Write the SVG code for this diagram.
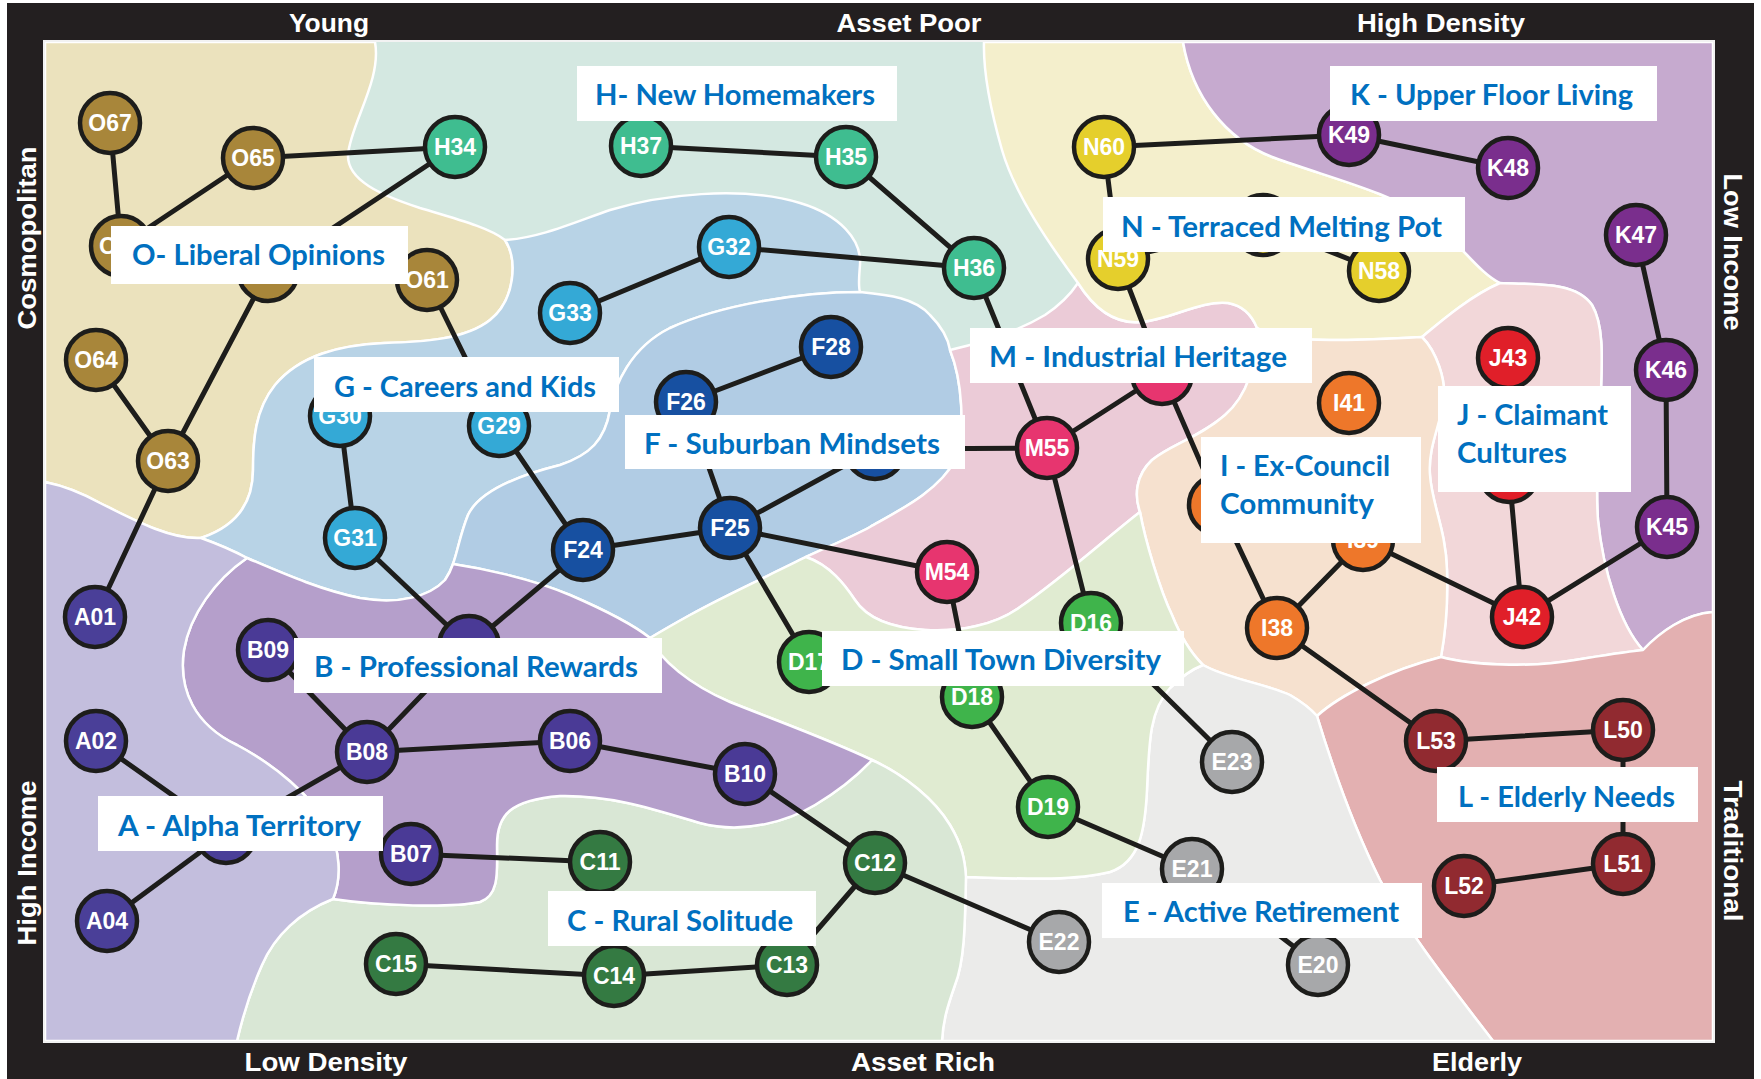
<svg xmlns="http://www.w3.org/2000/svg" width="1761" height="1079" viewBox="0 0 1761 1079">
<defs>
<style>
.reg{stroke:#ffffff;stroke-width:2.5;stroke-linejoin:round}
.node circle{stroke:#1d1d1b;stroke-width:4.5}
.node text{font-family:"Liberation Sans",Arial,sans-serif;font-weight:bold;font-size:23px;fill:#ffffff;text-anchor:middle}
.nO circle{fill:#a8863a}.nH circle{fill:#3fbd90}.nG circle{fill:#34a9d6}.nF circle{fill:#1750a1}
.nN circle{fill:#e5cf2c}.nK circle{fill:#7a2e8d}.nJ circle{fill:#e01f29}.nI circle{fill:#ee772a}
.nM circle{fill:#e7356f}.nD circle{fill:#3fb44b}.nE circle{fill:#a7a8aa}.nA circle{fill:#4a3f98}
.nB circle{fill:#4a3a96}.nC circle{fill:#347a42}.nL circle{fill:#912a30}
.label rect{fill:#ffffff}
.label text{font-family:Lato,"Open Sans",sans-serif;font-weight:bold;font-size:28px;fill:#0070c0}
.axis{font-family:"Liberation Sans",Arial,sans-serif;font-weight:bold;font-size:26px;fill:#ffffff;text-anchor:middle}
</style>
</defs>

<!-- frame -->
<rect x="0" y="0" width="1761" height="1079" fill="#ffffff"/>
<rect x="7" y="3" width="1747" height="1076" fill="#231f20"/>

<!-- segment regions -->
<g id="regions">
<rect id="region-H" x="45" y="42" width="1668" height="999" fill="#d4e8e1"/>
<path id="region-O" class="reg" fill="#ebe2bd" d="M45,42 H375 C382,80 350,125 348,155 C347,180 380,195 420,208 C460,220 490,228 505,240 C518,260 515,300 490,320 C465,340 420,342 384,343 C340,345 300,355 275,385 C255,410 253,440 253,470 C253,500 240,525 201,538 C170,540 130,518 100,503 C80,492 60,485 45,482 Z"/>
<path id="region-G" class="reg" fill="#b8d3e6" d="M505,240 C540,238 575,222 610,210 C660,195 740,185 800,203 C840,215 862,240 860,265 C859,278 858,286 860,292 C800,292 720,305 670,328 C630,348 615,385 610,410 C605,440 590,455 560,465 C520,475 480,490 468,515 C460,535 458,550 453,564 C451,570 449,574 445,580 C430,596 400,605 360,598 C320,590 280,572 247,558 C232,550 215,543 201,538 C240,525 253,500 253,470 C253,440 255,410 275,385 C300,355 340,345 384,343 C420,342 465,340 490,320 C515,300 518,260 505,240 Z"/>
<path id="region-F" class="reg" fill="#b1cce4" d="M860,292 C890,295 915,298 930,315 C942,327 948,338 950,350 C962,380 966,430 955,460 C940,490 900,510 870,527 C850,538 825,548 806,557 C770,575 720,598 690,615 C672,625 660,632 650,638 C630,622 600,608 570,595 C530,578 480,568 453,564 C458,550 460,535 468,515 C480,490 520,475 560,465 C590,455 605,440 610,410 C615,385 630,348 670,328 C720,305 800,292 860,292 Z"/>
<path id="region-M" class="reg" fill="#ebcbd7" d="M950,350 C985,342 1020,330 1045,315 C1060,305 1070,295 1078,283 C1095,310 1115,324 1140,322 C1170,320 1200,300 1228,303 C1245,306 1253,318 1257,328 C1256,365 1248,395 1225,415 C1200,437 1170,445 1152,460 C1136,475 1134,495 1140,512 C1110,535 1060,580 1020,607 C995,625 960,632 925,630 C895,628 868,620 855,600 C845,585 830,565 806,557 C825,548 850,538 870,527 C900,510 940,490 955,460 C966,430 962,380 950,350 Z"/>
<path id="region-N" class="reg" fill="#f4efcc" d="M984,42 H1183 C1192,95 1225,140 1275,158 C1330,178 1390,192 1430,220 C1462,245 1478,272 1500,283 C1470,296 1440,322 1422,337 C1400,338 1370,340 1330,340 C1300,340 1275,338 1257,328 C1253,318 1245,306 1228,303 C1200,300 1170,320 1140,322 C1115,324 1095,310 1078,283 C1050,245 1015,195 1002,150 C992,115 983,75 984,42 Z"/>
<path id="region-K" class="reg" fill="#c6aacf" d="M1183,42 H1713 V612 C1685,614 1660,632 1643,650 C1620,625 1603,570 1598,520 C1595,480 1599,430 1601,390 C1602,360 1604,325 1592,305 C1575,280 1530,285 1500,283 C1478,272 1462,245 1430,220 C1390,192 1330,178 1275,158 C1225,140 1192,95 1183,42 Z"/>
<path id="region-J" class="reg" fill="#f2d7d9" d="M1422,337 C1440,322 1470,296 1500,283 C1530,285 1575,280 1592,305 C1604,325 1602,360 1601,390 C1599,430 1595,480 1598,520 C1603,570 1620,625 1643,650 C1625,652 1605,655 1575,660 C1530,668 1470,665 1441,657 C1446,630 1448,600 1447,570 C1446,530 1432,505 1430,475 C1428,450 1438,430 1443,405 C1448,380 1435,350 1422,337 Z"/>
<path id="region-I" class="reg" fill="#f6e1cf" d="M1257,328 C1275,338 1300,340 1330,340 C1370,340 1400,338 1422,337 C1435,350 1448,380 1443,405 C1438,430 1428,450 1430,475 C1432,505 1446,530 1447,570 C1448,600 1446,630 1441,657 C1390,670 1340,695 1317,716 C1310,708 1302,702 1290,695 C1270,685 1225,678 1203,665 C1190,652 1180,635 1172,615 C1160,590 1145,540 1140,512 C1134,495 1136,475 1152,460 C1170,445 1200,437 1225,415 C1248,395 1256,365 1257,328 Z"/>
<path id="region-L" class="reg" fill="#e3b0b1" d="M1317,716 C1340,695 1390,670 1441,657 C1470,665 1530,668 1575,660 C1605,655 1625,652 1643,650 C1660,632 1685,614 1713,612 V1041 H1493 C1450,985 1410,935 1380,880 C1355,830 1335,775 1317,716 Z"/>
<path id="region-E" class="reg" fill="#ebebea" d="M966,877 C1010,878 1070,882 1110,872 C1140,862 1145,830 1147,790 C1149,740 1150,710 1170,688 C1180,678 1190,670 1203,665 C1225,678 1270,685 1290,695 C1302,702 1310,708 1317,716 C1335,775 1355,830 1380,880 C1410,935 1450,985 1493,1041 H942 C943,1020 948,1005 955,985 C965,960 965,920 966,877 Z"/>
<path id="region-D" class="reg" fill="#e0ebd1" d="M650,638 C660,660 690,685 730,702 C780,722 830,740 872,760 C905,775 935,800 950,825 C962,845 965,860 966,877 C1010,878 1070,882 1110,872 C1140,862 1145,830 1147,790 C1149,740 1150,710 1170,688 C1180,678 1190,670 1203,665 C1190,652 1180,635 1172,615 C1160,590 1145,540 1140,512 C1110,535 1060,580 1020,607 C995,625 960,632 925,630 C895,628 868,620 855,600 C845,585 830,565 806,557 C770,575 720,598 690,615 C672,625 660,632 650,638 Z"/>
<path id="region-C" class="reg" fill="#d9e7d5" d="M237,1041 C243,1015 250,992 262,965 C275,935 300,912 333,899 C380,906 450,908 480,902 C500,895 497,870 497,845 C497,815 510,800 560,796 C610,795 650,808 700,823 C745,835 790,820 815,805 C840,790 858,775 872,760 C905,775 935,800 950,825 C962,845 965,860 966,877 C965,920 965,960 955,985 C948,1005 943,1020 942,1041 Z"/>
<path id="region-B" class="reg" fill="#b59fcb" d="M247,558 C280,572 320,590 360,598 C400,605 430,596 445,580 C449,574 451,570 453,564 C480,568 530,578 570,595 C600,608 630,622 650,638 C660,660 690,685 730,702 C780,722 830,740 872,760 C858,775 840,790 815,805 C790,820 745,835 700,823 C650,808 610,795 560,796 C510,800 497,815 497,845 C497,870 500,895 480,902 C450,908 380,906 333,899 C342,878 340,850 328,825 C310,795 275,765 237,745 C195,725 178,690 184,650 C190,615 215,580 247,558 Z"/>
<path id="region-A" class="reg" fill="#c3bedd" d="M45,482 C60,485 80,492 100,503 C130,518 170,540 201,538 C215,543 232,550 247,558 C215,580 190,615 184,650 C178,690 195,725 237,745 C275,765 310,795 328,825 C340,850 342,878 333,899 C300,912 275,935 262,965 C250,992 243,1015 237,1041 H45 Z"/>
<rect x="44" y="41" width="1670" height="1001" fill="none" stroke="#f2f2f2" stroke-width="2"/>
</g>

<!-- links between segments -->
<g id="connectors" stroke="#1d1d1b" stroke-width="5" stroke-linecap="round" fill="none">
<line x1="110" y1="123" x2="121" y2="246"/>
<line x1="121" y1="246" x2="253" y2="158"/>
<line x1="253" y1="158" x2="455" y2="147"/>
<line x1="455" y1="147" x2="268" y2="271"/>
<line x1="268" y1="271" x2="168" y2="461"/>
<line x1="96" y1="360" x2="168" y2="461"/>
<line x1="168" y1="461" x2="95" y2="617"/>
<line x1="427" y1="280" x2="499" y2="426"/>
<line x1="570" y1="313" x2="729" y2="247"/>
<line x1="729" y1="247" x2="974" y2="268"/>
<line x1="641" y1="146" x2="846" y2="157"/>
<line x1="846" y1="157" x2="974" y2="268"/>
<line x1="974" y1="268" x2="1047" y2="448"/>
<line x1="340" y1="416" x2="355" y2="538"/>
<line x1="355" y1="538" x2="469" y2="646"/>
<line x1="499" y1="426" x2="583" y2="550"/>
<line x1="583" y1="550" x2="469" y2="646"/>
<line x1="583" y1="550" x2="730" y2="528"/>
<line x1="686" y1="402" x2="831" y2="347"/>
<line x1="686" y1="402" x2="730" y2="528"/>
<line x1="730" y1="528" x2="875" y2="449"/>
<line x1="875" y1="449" x2="1047" y2="448"/>
<line x1="730" y1="528" x2="947" y2="572"/>
<line x1="730" y1="528" x2="809" y2="662"/>
<line x1="947" y1="572" x2="972" y2="697"/>
<line x1="1047" y1="448" x2="1162" y2="374"/>
<line x1="1047" y1="448" x2="1091" y2="623"/>
<line x1="1162" y1="374" x2="1219" y2="505"/>
<line x1="1104" y1="147" x2="1349" y2="135"/>
<line x1="1349" y1="135" x2="1508" y2="168"/>
<line x1="1104" y1="147" x2="1118" y2="259"/>
<line x1="1118" y1="259" x2="1263" y2="225"/>
<line x1="1263" y1="225" x2="1379" y2="271"/>
<line x1="1118" y1="259" x2="1162" y2="374"/>
<line x1="1636" y1="235" x2="1666" y2="370"/>
<line x1="1666" y1="370" x2="1667" y2="527"/>
<line x1="1667" y1="527" x2="1522" y2="617"/>
<line x1="1509" y1="472" x2="1522" y2="617"/>
<line x1="1363" y1="540" x2="1522" y2="617"/>
<line x1="1363" y1="540" x2="1277" y2="628"/>
<line x1="1219" y1="505" x2="1277" y2="628"/>
<line x1="1277" y1="628" x2="1436" y2="741"/>
<line x1="1436" y1="741" x2="1623" y2="730"/>
<line x1="1623" y1="730" x2="1623" y2="864"/>
<line x1="1623" y1="864" x2="1464" y2="886"/>
<line x1="1091" y1="623" x2="1232" y2="762"/>
<line x1="972" y1="697" x2="1048" y2="807"/>
<line x1="1048" y1="807" x2="1192" y2="869"/>
<line x1="1192" y1="869" x2="1318" y2="965"/>
<line x1="268" y1="650" x2="367" y2="752"/>
<line x1="469" y1="646" x2="367" y2="752"/>
<line x1="367" y1="752" x2="570" y2="741"/>
<line x1="570" y1="741" x2="745" y2="774"/>
<line x1="745" y1="774" x2="875" y2="863"/>
<line x1="367" y1="752" x2="226" y2="833"/>
<line x1="96" y1="741" x2="226" y2="833"/>
<line x1="226" y1="833" x2="107" y2="921"/>
<line x1="411" y1="854" x2="600" y2="862"/>
<line x1="875" y1="863" x2="787" y2="965"/>
<line x1="875" y1="863" x2="1059" y2="942"/>
<line x1="787" y1="965" x2="614" y2="976"/>
<line x1="614" y1="976" x2="396" y2="964"/>
</g>

<!-- segment nodes -->
<g id="nodes">
<g id="node-O67" class="node nO"><circle cx="110" cy="123" r="30"/><text x="110" y="131">O67</text></g>
<g id="node-O65" class="node nO"><circle cx="253" cy="158" r="30"/><text x="253" y="166">O65</text></g>
<g id="node-O66" class="node nO"><circle cx="121" cy="246" r="30"/><text x="99" y="254" style="text-anchor:start">O</text></g>
<g id="node-O62" class="node nO"><circle cx="268" cy="271" r="30"/></g>
<g id="node-O61" class="node nO"><circle cx="427" cy="280" r="30"/><text x="427" y="288">O61</text></g>
<g id="node-O64" class="node nO"><circle cx="96" cy="360" r="30"/><text x="96" y="368">O64</text></g>
<g id="node-O63" class="node nO"><circle cx="168" cy="461" r="30"/><text x="168" y="469">O63</text></g>
<g id="node-H34" class="node nH"><circle cx="455" cy="147" r="30"/><text x="455" y="155">H34</text></g>
<g id="node-H37" class="node nH"><circle cx="641" cy="146" r="30"/><text x="641" y="154">H37</text></g>
<g id="node-H35" class="node nH"><circle cx="846" cy="157" r="30"/><text x="846" y="165">H35</text></g>
<g id="node-H36" class="node nH"><circle cx="974" cy="268" r="30"/><text x="974" y="276">H36</text></g>
<g id="node-G32" class="node nG"><circle cx="729" cy="247" r="30"/><text x="729" y="255">G32</text></g>
<g id="node-G33" class="node nG"><circle cx="570" cy="313" r="30"/><text x="570" y="321">G33</text></g>
<g id="node-G30" class="node nG"><circle cx="340" cy="416" r="30"/><text x="340" y="424">G30</text></g>
<g id="node-G29" class="node nG"><circle cx="499" cy="426" r="30"/><text x="499" y="434">G29</text></g>
<g id="node-G31" class="node nG"><circle cx="355" cy="538" r="30"/><text x="355" y="546">G31</text></g>
<g id="node-F28" class="node nF"><circle cx="831" cy="347" r="30"/><text x="831" y="355">F28</text></g>
<g id="node-F26" class="node nF"><circle cx="686" cy="402" r="30"/><text x="686" y="410">F26</text></g>
<g id="node-F27" class="node nF"><circle cx="875" cy="449" r="30"/></g>
<g id="node-F25" class="node nF"><circle cx="730" cy="528" r="30"/><text x="730" y="536">F25</text></g>
<g id="node-F24" class="node nF"><circle cx="583" cy="550" r="30"/><text x="583" y="558">F24</text></g>
<g id="node-N60" class="node nN"><circle cx="1104" cy="147" r="30"/><text x="1104" y="155">N60</text></g>
<g id="node-N59" class="node nN"><circle cx="1118" cy="259" r="30"/><text x="1118" y="267">N59</text></g>
<g id="node-N57" class="node nN"><circle cx="1263" cy="225" r="30"/></g>
<g id="node-N58" class="node nN"><circle cx="1379" cy="271" r="30"/><text x="1379" y="279">N58</text></g>
<g id="node-K49" class="node nK"><circle cx="1349" cy="135" r="30"/><text x="1349" y="143">K49</text></g>
<g id="node-K48" class="node nK"><circle cx="1508" cy="168" r="30"/><text x="1508" y="176">K48</text></g>
<g id="node-K47" class="node nK"><circle cx="1636" cy="235" r="30"/><text x="1636" y="243">K47</text></g>
<g id="node-K46" class="node nK"><circle cx="1666" cy="370" r="30"/><text x="1666" y="378">K46</text></g>
<g id="node-K45" class="node nK"><circle cx="1667" cy="527" r="30"/><text x="1667" y="535">K45</text></g>
<g id="node-J43" class="node nJ"><circle cx="1508" cy="358" r="30"/><text x="1508" y="366">J43</text></g>
<g id="node-J44" class="node nJ"><circle cx="1509" cy="472" r="30"/></g>
<g id="node-J42" class="node nJ"><circle cx="1522" cy="617" r="30"/><text x="1522" y="625">J42</text></g>
<g id="node-I41" class="node nI"><circle cx="1349" cy="403" r="30"/><text x="1349" y="411">I41</text></g>
<g id="node-I40" class="node nI"><circle cx="1219" cy="505" r="30"/></g>
<g id="node-I39" class="node nI"><circle cx="1363" cy="540" r="30"/><text x="1363" y="548">I39</text></g>
<g id="node-I38" class="node nI"><circle cx="1277" cy="628" r="30"/><text x="1277" y="636">I38</text></g>
<g id="node-M56" class="node nM"><circle cx="1162" cy="374" r="30"/></g>
<g id="node-M55" class="node nM"><circle cx="1047" cy="448" r="30"/><text x="1047" y="456">M55</text></g>
<g id="node-M54" class="node nM"><circle cx="947" cy="572" r="30"/><text x="947" y="580">M54</text></g>
<g id="node-D16" class="node nD"><circle cx="1091" cy="623" r="30"/><text x="1091" y="631">D16</text></g>
<g id="node-D17" class="node nD"><circle cx="809" cy="662" r="30"/><text x="809" y="670">D17</text></g>
<g id="node-D18" class="node nD"><circle cx="972" cy="697" r="30"/><text x="972" y="705">D18</text></g>
<g id="node-D19" class="node nD"><circle cx="1048" cy="807" r="30"/><text x="1048" y="815">D19</text></g>
<g id="node-E23" class="node nE"><circle cx="1232" cy="762" r="30"/><text x="1232" y="770">E23</text></g>
<g id="node-E21" class="node nE"><circle cx="1192" cy="869" r="30"/><text x="1192" y="877">E21</text></g>
<g id="node-E22" class="node nE"><circle cx="1059" cy="942" r="30"/><text x="1059" y="950">E22</text></g>
<g id="node-E20" class="node nE"><circle cx="1318" cy="965" r="30"/><text x="1318" y="973">E20</text></g>
<g id="node-A01" class="node nA"><circle cx="95" cy="617" r="30"/><text x="95" y="625">A01</text></g>
<g id="node-A02" class="node nA"><circle cx="96" cy="741" r="30"/><text x="96" y="749">A02</text></g>
<g id="node-A03" class="node nA"><circle cx="226" cy="833" r="30"/></g>
<g id="node-A04" class="node nA"><circle cx="107" cy="921" r="30"/><text x="107" y="929">A04</text></g>
<g id="node-B09" class="node nB"><circle cx="268" cy="650" r="30"/><text x="268" y="658">B09</text></g>
<g id="node-B05" class="node nB"><circle cx="469" cy="646" r="30"/></g>
<g id="node-B08" class="node nB"><circle cx="367" cy="752" r="30"/><text x="367" y="760">B08</text></g>
<g id="node-B06" class="node nB"><circle cx="570" cy="741" r="30"/><text x="570" y="749">B06</text></g>
<g id="node-B10" class="node nB"><circle cx="745" cy="774" r="30"/><text x="745" y="782">B10</text></g>
<g id="node-B07" class="node nB"><circle cx="411" cy="854" r="30"/><text x="411" y="862">B07</text></g>
<g id="node-C11" class="node nC"><circle cx="600" cy="862" r="30"/><text x="600" y="870">C11</text></g>
<g id="node-C12" class="node nC"><circle cx="875" cy="863" r="30"/><text x="875" y="871">C12</text></g>
<g id="node-C15" class="node nC"><circle cx="396" cy="964" r="30"/><text x="396" y="972">C15</text></g>
<g id="node-C14" class="node nC"><circle cx="614" cy="976" r="30"/><text x="614" y="984">C14</text></g>
<g id="node-C13" class="node nC"><circle cx="787" cy="965" r="30"/><text x="787" y="973">C13</text></g>
<g id="node-L53" class="node nL"><circle cx="1436" cy="741" r="30"/><text x="1436" y="749">L53</text></g>
<g id="node-L50" class="node nL"><circle cx="1623" cy="730" r="30"/><text x="1623" y="738">L50</text></g>
<g id="node-L51" class="node nL"><circle cx="1623" cy="864" r="30"/><text x="1623" y="872">L51</text></g>
<g id="node-L52" class="node nL"><circle cx="1464" cy="886" r="30"/><text x="1464" y="894">L52</text></g>
</g>

<!-- group captions -->
<g id="labels">
<g id="label-O" class="label"><rect x="111" y="226" width="297" height="58"/><text x="132" y="265" textLength="253" lengthAdjust="spacingAndGlyphs">O- Liberal Opinions</text></g>
<g id="label-H" class="label"><rect x="577" y="66" width="320" height="55"/><text x="595" y="105" textLength="280" lengthAdjust="spacingAndGlyphs">H- New Homemakers</text></g>
<g id="label-K" class="label"><rect x="1330" y="66" width="327" height="55"/><text x="1350" y="105" textLength="283" lengthAdjust="spacingAndGlyphs">K - Upper Floor Living</text></g>
<g id="label-N" class="label"><rect x="1103" y="197" width="362" height="55"/><text x="1121" y="237" textLength="321" lengthAdjust="spacingAndGlyphs">N - Terraced Melting Pot</text></g>
<g id="label-M" class="label"><rect x="970" y="328" width="342" height="55"/><text x="989" y="367" textLength="298" lengthAdjust="spacingAndGlyphs">M - Industrial Heritage</text></g>
<g id="label-G" class="label"><rect x="314" y="357" width="305" height="55"/><text x="334" y="397" textLength="262" lengthAdjust="spacingAndGlyphs">G - Careers and Kids</text></g>
<g id="label-F" class="label"><rect x="625" y="415" width="340" height="54"/><text x="644" y="454" textLength="296" lengthAdjust="spacingAndGlyphs">F - Suburban Mindsets</text></g>
<g id="label-I" class="label"><rect x="1201" y="437" width="220" height="106"/><text x="1220" y="476" textLength="170" lengthAdjust="spacingAndGlyphs">I - Ex-Council</text><text x="1220" y="514" textLength="154" lengthAdjust="spacingAndGlyphs">Community</text></g>
<g id="label-J" class="label"><rect x="1438" y="386" width="193" height="106"/><text x="1457" y="425" textLength="151" lengthAdjust="spacingAndGlyphs">J - Claimant</text><text x="1457" y="463" textLength="110" lengthAdjust="spacingAndGlyphs">Cultures</text></g>
<g id="label-B" class="label"><rect x="294" y="638" width="368" height="55"/><text x="314" y="677" textLength="324" lengthAdjust="spacingAndGlyphs">B - Professional Rewards</text></g>
<g id="label-D" class="label"><rect x="822" y="631" width="362" height="55"/><text x="841" y="670" textLength="320" lengthAdjust="spacingAndGlyphs">D - Small Town Diversity</text></g>
<g id="label-A" class="label"><rect x="98" y="796" width="285" height="55"/><text x="118" y="836" textLength="243" lengthAdjust="spacingAndGlyphs">A - Alpha Territory</text></g>
<g id="label-C" class="label"><rect x="548" y="891" width="268" height="55"/><text x="567" y="931" textLength="226" lengthAdjust="spacingAndGlyphs">C - Rural Solitude</text></g>
<g id="label-E" class="label"><rect x="1102" y="883" width="320" height="55"/><text x="1123" y="922" textLength="276" lengthAdjust="spacingAndGlyphs">E - Active Retirement</text></g>
<g id="label-L" class="label"><rect x="1437" y="767" width="261" height="55"/><text x="1458" y="807" textLength="217" lengthAdjust="spacingAndGlyphs">L - Elderly Needs</text></g>
</g>

<!-- axis captions on the frame -->
<g id="axes">
<text class="axis" x="329" y="32" textLength="80" lengthAdjust="spacingAndGlyphs">Young</text>
<text class="axis" x="909" y="32" textLength="145" lengthAdjust="spacingAndGlyphs">Asset Poor</text>
<text class="axis" x="1441" y="32" textLength="168" lengthAdjust="spacingAndGlyphs">High Density</text>
<text class="axis" x="326" y="1071" textLength="163" lengthAdjust="spacingAndGlyphs">Low Density</text>
<text class="axis" x="923" y="1071" textLength="144" lengthAdjust="spacingAndGlyphs">Asset Rich</text>
<text class="axis" x="1477" y="1071" textLength="90" lengthAdjust="spacingAndGlyphs">Elderly</text>
<text class="axis" transform="translate(36,238) rotate(-90)" textLength="183" lengthAdjust="spacingAndGlyphs">Cosmopolitan</text>
<text class="axis" transform="translate(36,863) rotate(-90)" textLength="165" lengthAdjust="spacingAndGlyphs">High Income</text>
<text class="axis" transform="translate(1724,252) rotate(90)" textLength="157" lengthAdjust="spacingAndGlyphs">Low Income</text>
<text class="axis" transform="translate(1724,851) rotate(90)" textLength="141" lengthAdjust="spacingAndGlyphs">Traditional</text>
</g>
</svg>
